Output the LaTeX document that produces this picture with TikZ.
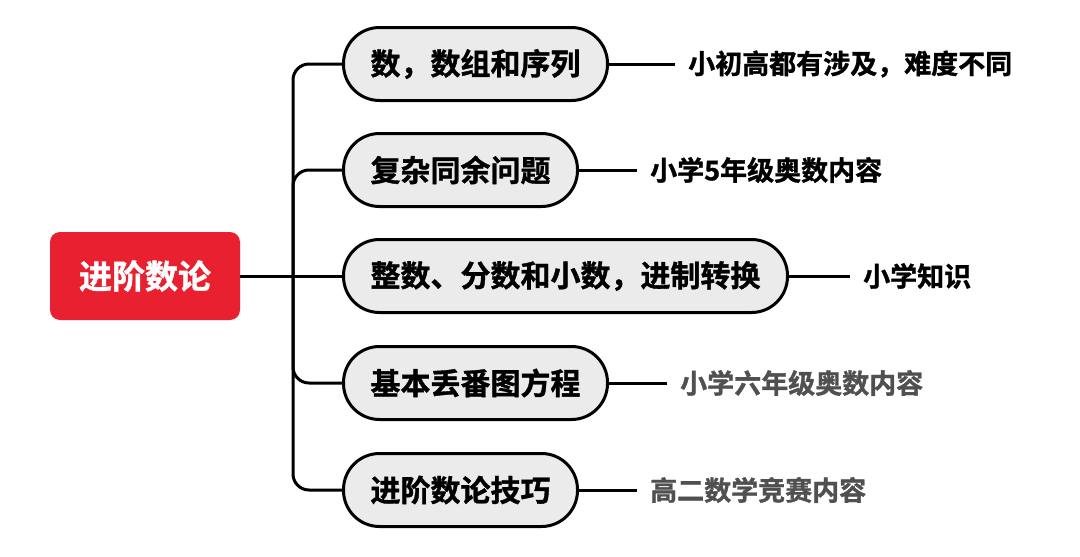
\documentclass[tikz,border=0pt]{standalone}
\usepackage{fontspec}
\setmainfont{Noto Sans CJK SC}[BoldFont={Noto Sans CJK SC Bold},BoldFeatures={FakeBold=1.2}]
\definecolor{rootred}{HTML}{E8202F}
\definecolor{boxgray}{HTML}{EBEBEB}
\definecolor{notegray}{HTML}{505050}
\begin{document}
\begin{tikzpicture}[x=1pt,y=-1pt,
  conn/.style={line width=3pt},
  rootbox/.style={fill=rootred,rounded corners=10pt,minimum width=190pt,minimum height=88pt,
    text=white,font=\bfseries\fontsize{33}{36}\selectfont,inner sep=0pt},
  topic/.style={draw=black,line width=3pt,fill=boxgray,rounded corners=36pt,minimum height=73pt,
    inner xsep=27pt,inner ysep=0pt,anchor=west,font=\bfseries\fontsize{30}{34}\selectfont},
  note/.style={anchor=west,inner sep=0pt,font=\bfseries\fontsize{27}{30}\selectfont},
  darknote/.style={note,text=black},
  greynote/.style={note,text=notegray}]
\useasboundingbox (0,0) rectangle (1080,557);
\node[rootbox] (root) at (145,276) {进阶数论};
\coordinate (j) at (293,276);
\node[topic] (t1) at (342,64) {数，数组和序列};
\node[topic] (t2) at (342,170) {复杂同余问题};
\node[topic] (t3) at (342,276) {整数、分数和小数，进制转换};
\node[topic] (t4) at (342,383) {基本丢番图方程};
\node[topic] (t5) at (342,490) {进阶数论技巧};
\node[darknote] (n1) at (688,64) {小初高都有涉及，难度不同};
\node[darknote] (n2) at (650,170) {小学5年级奥数内容};
\node[darknote] (n3) at (863,276) {小学知识};
\node[greynote] (n4) at (680,383) {小学六年级奥数内容};
\node[greynote] (n5) at (650,490) {高二数学竞赛内容};
\draw[conn] (root.east) -- (t3.west);
\foreach \t in {t1,t2,t4,t5}{
  \draw[conn,rounded corners=16pt] (j) |- (\t.west);
}
\foreach \t/\n in {t1/n1,t2/n2,t3/n3,t4/n4,t5/n5}{
  \draw[conn] (\t.east) -- ([xshift=-13pt]\n.west);
}
\end{tikzpicture}
\end{document}
